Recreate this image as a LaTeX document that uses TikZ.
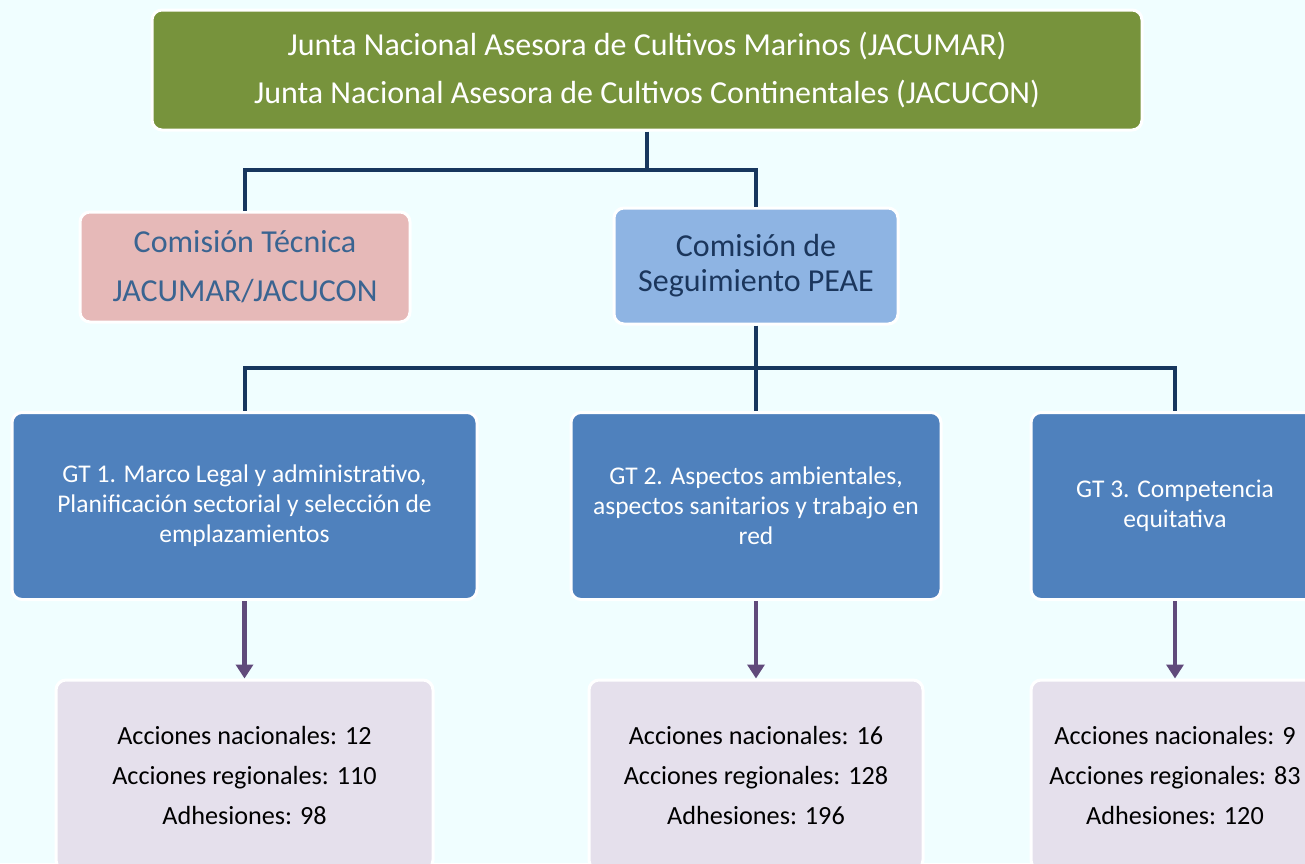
\documentclass[tikz,border=0pt]{standalone}
\usepackage{fontspec}
\setmainfont{Carlito}
\usetikzlibrary{arrows.meta}
\definecolor{bgc}{HTML}{F0FEFF}
\definecolor{greenc}{HTML}{77933C}
\definecolor{pinkc}{HTML}{E6B9B8}
\definecolor{lbluec}{HTML}{8EB4E3}
\definecolor{bluec}{HTML}{4F81BD}
\definecolor{lavc}{HTML}{E5E0EC}
\definecolor{navyc}{HTML}{17375E}
\definecolor{purplec}{HTML}{604A7B}
\definecolor{cttext}{HTML}{3A6491}
\definecolor{cstext}{HTML}{1B365C}
\tikzset{
  box/.style={draw=white, line width=3pt, rounded corners=10pt, inner sep=0pt, align=center},
  conn/.style={draw=navyc, line width=4pt},
  arr/.style={draw=purplec, line width=4.5pt, -{Triangle[width=17pt,length=14pt]}},
}
\begin{document}
\begin{tikzpicture}[x=1pt,y=-1pt]
\useasboundingbox[fill=bgc] (0,0) rectangle (1305,863);
\clip (0,0) rectangle (1305,863);
% top
\node[box, fill=greenc, minimum width=990pt, minimum height=120pt, text=white,
  font=\fontsize{32}{48}\selectfont] (top) at (647,70)
  {Junta Nacional Asesora de Cultivos Marinos (JACUMAR)\\Junta Nacional Asesora de Cultivos Continentales (JACUCON)};
% second level
\node[box, fill=pinkc, minimum width=330pt, minimum height=110pt, text=cttext,
  font=\fontsize{32}{49}\selectfont] (ct) at (245,267)
  {Comisión Técnica\\JACUMAR/JACUCON};
\node[box, fill=lbluec, minimum width=284pt, minimum height=116pt, text=cstext,
  font=\fontsize{32}{35}\selectfont] (cs) at (756,266)
  {Comisión de\\Seguimiento PEAE};
% GT level
\node[box, fill=bluec, minimum width=465pt, minimum height=187pt, text=white,
  font=\fontsize{25.5}{30}\selectfont] (gt1) at (244.5,506)
  {GT 1. Marco Legal y administrativo,\\Planificación sectorial y selección de\\emplazamientos};
\node[box, fill=bluec, minimum width=370pt, minimum height=187pt, text=white,
  font=\fontsize{25.5}{30}\selectfont] (gt2) at (756,506)
  {GT 2. Aspectos ambientales,\\aspectos sanitarios y trabajo en\\red};
\node[box, fill=bluec, minimum width=288pt, minimum height=187pt, text=white,
  font=\fontsize{25.5}{30}\selectfont] (gt3) at (1175,506)
  {GT 3. Competencia\\equitativa};
% bottom level
\node[box, fill=lavc, minimum width=377pt, minimum height=190pt, text=black,
  font=\fontsize{26.2}{40}\selectfont] (b1) at (244.5,775)
  {Acciones nacionales: 12\\Acciones regionales: 110\\Adhesiones: 98};
\node[box, fill=lavc, minimum width=334pt, minimum height=190pt, text=black,
  font=\fontsize{26.2}{40}\selectfont] (b2) at (756,775)
  {Acciones nacionales: 16\\Acciones regionales: 128\\Adhesiones: 196};
\node[box, fill=lavc, minimum width=288pt, minimum height=190pt, text=black,
  font=\fontsize{26.2}{40}\selectfont] (b3) at (1175,775)
  {Acciones nacionales: 9\\Acciones regionales: 83\\Adhesiones: 120};
% connectors
\coordinate (j1) at (647,170);
\coordinate (j2) at (756,368);
\draw[conn] (top.south) -- (j1);
\draw[conn] (j1) -| (ct.north);
\draw[conn] (j1) -| (cs.north);
\draw[conn] (cs.south) -- (j2);
\draw[conn] (j2) -| (gt1.north);
\draw[conn] (j2) -- (gt2.north);
\draw[conn] (j2) -| (gt3.north);
% arrows
\draw[arr] (gt1.south) -- (b1.north);
\draw[arr] (gt2.south) -- (b2.north);
\draw[arr] (gt3.south) -- (b3.north);
\end{tikzpicture}
\end{document}
